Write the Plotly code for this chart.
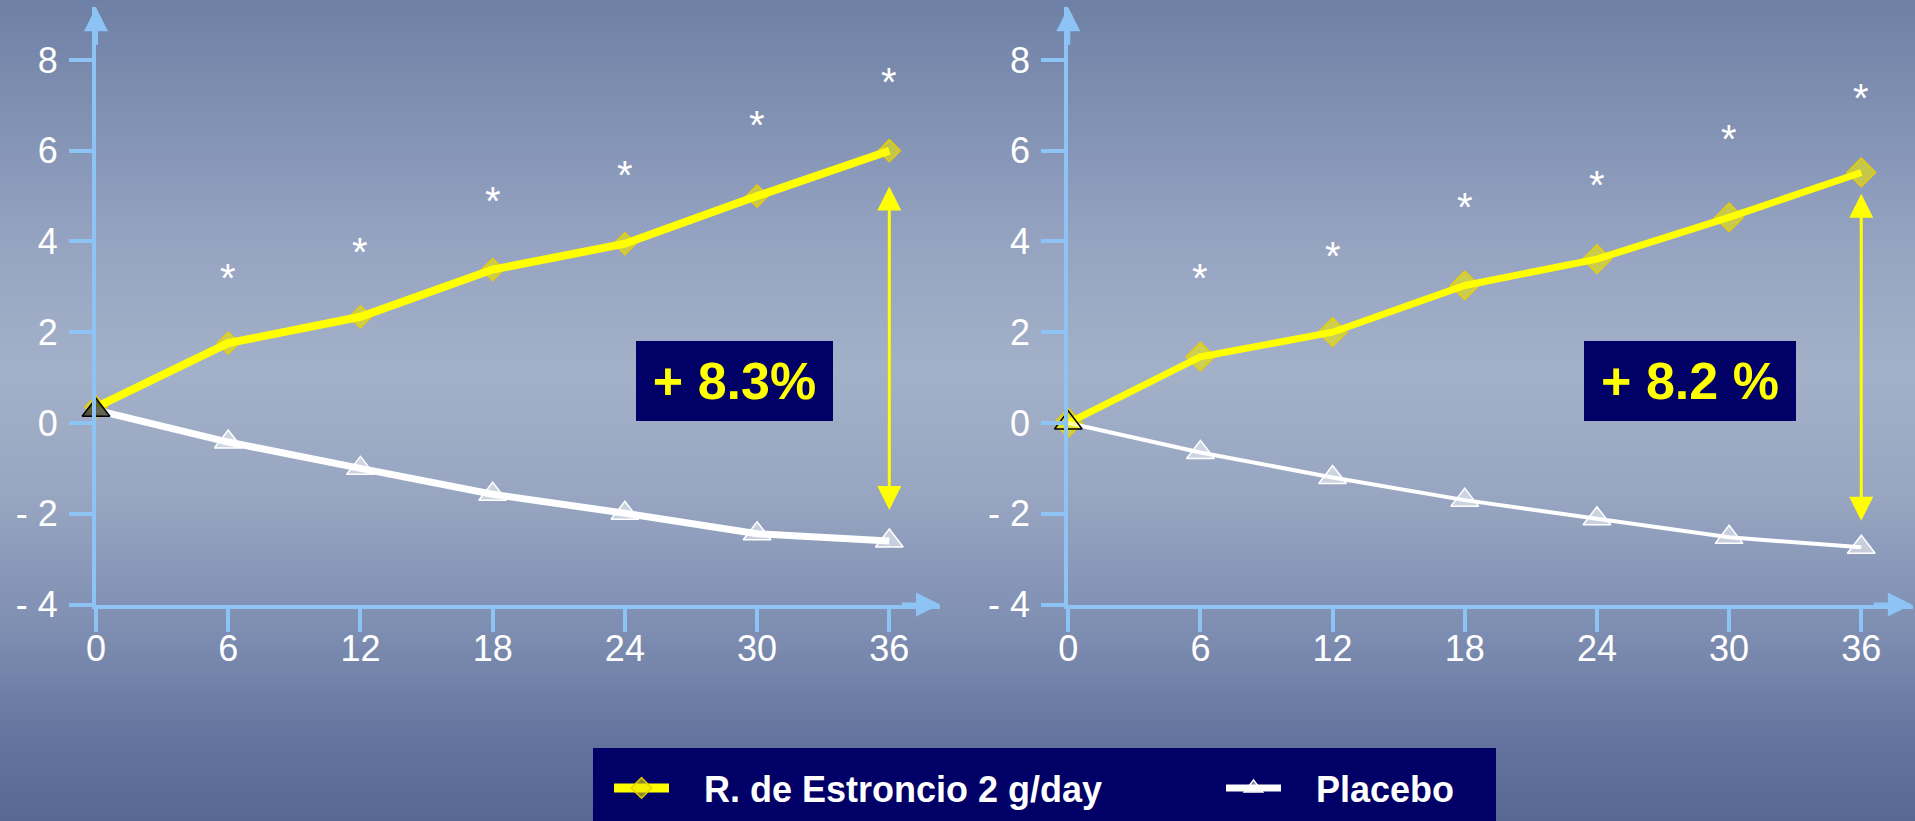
import struct
import zlib
import base64
import plotly.graph_objects as go

# ---- data -------------------------------------------------------------
months = [0, 6, 12, 18, 24, 30, 36]

# left panel (% change from baseline)
sr_left = [0.35, 1.76, 2.34, 3.38, 3.95, 5.0, 6.0]
placebo_left = [0.28, -0.42, -1.0, -1.57, -1.99, -2.44, -2.6]
stars_left = [3.3, 3.87, 5.0, 5.57, 6.67, 7.62]

# right panel (% change from baseline)
sr_right = [0.0, 1.46, 2.0, 3.03, 3.61, 4.53, 5.52]
placebo_right = [0.0, -0.65, -1.2, -1.7, -2.11, -2.52, -2.74]
stars_right = [3.3, 3.8, 4.87, 5.36, 6.36, 7.28]

star_months = [6, 12, 18, 24, 30, 36]
gain_labels = ["+ 8.3%", "+ 8.2 %"]
gap_top = [5.21, 5.05]
gap_bottom = [-1.95, -2.19]

y_tickvals = [-4, -2, 0, 2, 4, 6, 8]
y_ticktext = ["- 4", "- 2", "0", "2", "4", "6", "8"]
series_names = ["R. de Estroncio 2 g/day", "Placebo"]

# ---- style ------------------------------------------------------------
W, H = 1915, 821
FONT = "Liberation Sans, Arial, sans-serif"
AXIS = "#8dc3f5"
YELLOW = "#ffff00"
NAVY = "#000066"
DIAMOND_FILL = "rgba(235,230,0,0.6)"
DIAMOND_EDGE = "rgba(235,205,0,0.95)"
TRI_FILL = "rgba(255,255,255,0.5)"
LEGEND_PAD = "\u00a0\u00a0\u00a0"


def gradient_png(stops, height):
    """Vertical colour ramp as a 1-px-wide PNG data URI."""
    rows = bytearray()
    for i in range(height):
        t = i / (height - 1)
        for k in range(len(stops) - 1):
            t0, c0 = stops[k]
            t1, c1 = stops[k + 1]
            if t0 <= t <= t1:
                f = (t - t0) / (t1 - t0) if t1 > t0 else 0
                rgb = [round(c0[j] + (c1[j] - c0[j]) * f) for j in range(3)]
                break
        rows += b"\x00" + bytes(rgb)

    def chunk(tag, data):
        return (struct.pack(">I", len(data)) + tag + data
                + struct.pack(">I", zlib.crc32(tag + data) & 0xFFFFFFFF))

    png = (b"\x89PNG\r\n\x1a\n"
           + chunk(b"IHDR", struct.pack(">IIBBBBB", 1, height, 8, 2, 0, 0, 0))
           + chunk(b"IDAT", zlib.compress(bytes(rows)))
           + chunk(b"IEND", b""))
    return "data:image/png;base64," + base64.b64encode(png).decode()


bg_stops = [
    (0.00, (110, 128, 165)),
    (0.30, (150, 164, 194)),
    (0.45, (162, 176, 200)),
    (0.60, (152, 166, 194)),
    (0.78, (124, 140, 176)),
    (0.90, (100, 116, 158)),
    (1.00, (88, 104, 148)),
]

fig = go.Figure()

panels = [
    dict(xa="x", ya="y", sr=sr_left, pl=placebo_left, stars=stars_left,
         sr_w=8, pl_w=7, d_size=17, first_tri="rgba(60,60,40,0.8)"),
    dict(xa="x2", ya="y2", sr=sr_right, pl=placebo_right, stars=stars_right,
         sr_w=7, pl_w=4, d_size=22, first_tri="rgba(255,255,0,0.35)"),
]

annotations = []
for i, p in enumerate(panels):
    n = len(months)
    # diamonds sit under the lines
    fig.add_trace(go.Scatter(
        x=months, y=p["sr"], xaxis=p["xa"], yaxis=p["ya"], mode="markers",
        marker=dict(symbol="diamond", size=p["d_size"], color=DIAMOND_FILL,
                    line=dict(color=DIAMOND_EDGE, width=1.5)),
        cliponaxis=False, showlegend=False, hoverinfo="skip"))
    fig.add_trace(go.Scatter(
        x=months, y=p["sr"], xaxis=p["xa"], yaxis=p["ya"], mode="lines",
        line=dict(color=YELLOW, width=p["sr_w"]),
        cliponaxis=False, showlegend=False))
    fig.add_trace(go.Scatter(
        x=months, y=p["pl"], xaxis=p["xa"], yaxis=p["ya"], mode="lines",
        line=dict(color="white", width=p["pl_w"]),
        cliponaxis=False, showlegend=False))
    fig.add_trace(go.Scatter(
        x=months, y=p["pl"], xaxis=p["xa"], yaxis=p["ya"], mode="markers",
        marker=dict(symbol="triangle-up", size=24,
                    color=[p["first_tri"]] + [TRI_FILL] * (n - 1),
                    line=dict(color=["black"] + ["white"] * (n - 1), width=1.5)),
        cliponaxis=False, showlegend=False, hoverinfo="skip"))

    xr = "x" if i == 0 else "x2"
    yr = "y" if i == 0 else "y2"

    # significance stars
    for m, s in zip(star_months, p["stars"]):
        annotations.append(dict(
            x=m, y=s, xref=xr, yref=yr, text="*", showarrow=False,
            font=dict(family=FONT, size=40, color="white"), yshift=-5))

    # difference arrow at month 36
    annotations.append(dict(
        x=36, y=gap_top[i], ax=36, ay=gap_bottom[i], xref=xr, yref=yr,
        axref=xr, ayref=yr, text="", showarrow=True, arrowside="end+start",
        arrowhead=2, startarrowhead=2, arrowsize=1.6, startarrowsize=1.6,
        arrowwidth=3, arrowcolor=YELLOW))

    # gain box
    annotations.append(dict(
        x=[28.98, 28.22][i], y=0.93, xref=xr, yref=yr, text=gain_labels[i],
        showarrow=False, bgcolor=NAVY, borderpad=0, borderwidth=0,
        width=[197, 212][i], height=80,
        font=dict(family=FONT, size=52, color=YELLOW, weight="bold")))

    # axis arrowheads
    annotations.append(dict(
        x=38.3, y=-4, ax=36.5, ay=-4, xref=xr, yref=yr, axref=xr, ayref=yr,
        text="", showarrow=True, arrowhead=2, arrowsize=1.2, arrowwidth=4,
        arrowcolor=AXIS))
    annotations.append(dict(
        x=0, y=9.16, ax=0, ay=8.3, xref=xr, yref=yr, axref=xr, ayref=yr,
        text="", showarrow=True, arrowhead=2, arrowsize=1.2, arrowwidth=4,
        arrowcolor=AXIS))

# legend entries
fig.add_trace(go.Scatter(
    x=[None], y=[None], mode="lines+markers", name=LEGEND_PAD + series_names[0],
    line=dict(color=YELLOW, width=9),
    marker=dict(symbol="diamond", size=16, color=DIAMOND_FILL,
                line=dict(color=DIAMOND_EDGE, width=1.5))))
fig.add_trace(go.Scatter(
    x=[None], y=[None], mode="lines+markers", name=LEGEND_PAD + series_names[1],
    line=dict(color="white", width=7),
    marker=dict(symbol="triangle-up", size=16, color=TRI_FILL,
                line=dict(color="white", width=1.5))))

axis_common = dict(
    showgrid=False, zeroline=False, showline=True, linecolor=AXIS, linewidth=4,
    ticks="outside", ticklen=23, tickwidth=4, tickcolor=AXIS,
    tickfont=dict(family=FONT, size=36, color="white"), fixedrange=True)

ydom = [1 - 604.5 / H, 1 - 7.3 / H]
fig.update_layout(
    width=W, height=H, autosize=False,
    margin=dict(l=0, r=0, t=0, b=0, autoexpand=False),
    paper_bgcolor="rgb(140,155,188)", plot_bgcolor="rgba(0,0,0,0)",
    xaxis=dict(domain=[96 / W, 940 / W], range=[0, 38.3], tickvals=months,
               anchor="y", ticklabelstandoff=-14, **axis_common),
    yaxis=dict(domain=ydom, range=[-4, 9.16], tickvals=y_tickvals,
               ticktext=y_ticktext, anchor="x", ticklabelstandoff=4, **axis_common),
    xaxis2=dict(domain=[1068.3 / W, 1913 / W], range=[0, 38.35], tickvals=months,
                anchor="y2", ticklabelstandoff=-14, **axis_common),
    yaxis2=dict(domain=ydom, range=[-4, 9.16], tickvals=y_tickvals,
                ticktext=y_ticktext, anchor="x2", ticklabelstandoff=4, **axis_common),
    annotations=annotations,
    images=[dict(source=gradient_png(bg_stops, H), xref="paper", yref="paper",
                 x=0, y=1, sizex=1, sizey=1, sizing="stretch", layer="below",
                 xanchor="left", yanchor="top")],
    shapes=[dict(type="rect", xref="paper", yref="paper",
                 x0=593 / W, x1=1496 / W, y0=0, y1=1 - 748 / H,
                 fillcolor=NAVY, line=dict(width=0), layer="below")],
    legend=dict(orientation="h", x=609 / W, xanchor="left",
                y=1 - 758 / H, yanchor="top", bgcolor="rgba(0,0,0,0)",
                font=dict(family=FONT, size=36, color="white", weight="bold"),
                itemwidth=55, entrywidth=542, entrywidthmode="pixels"),
    showlegend=True,
    hovermode=False,
)

fig.write_html("out.html")
